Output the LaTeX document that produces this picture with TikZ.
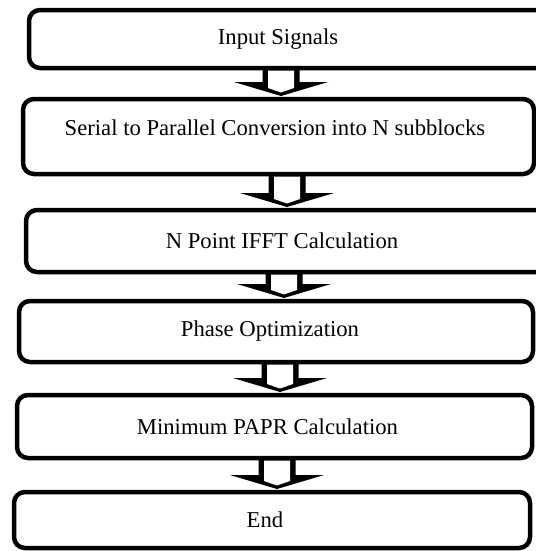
\documentclass[tikz,border=0pt]{standalone}
\usepackage{fontspec}
\setmainfont{Liberation Serif}
\usetikzlibrary{calc}
\newlength\pxu
\setlength\pxu{0.75pt}
% block arrow from node #1 to node #2 along the vertical through coordinate #3
\newcommand\blockarrow[3]{%
  \path let \p1=(#1.south -| #3), \p2=(#2.north -| #3) in
    [fill=black] ($(\p1)+(-18.5,0)$) -- ($(\x1,\y2)+(-18.5,-17)$) -- ($(\x1,\y2)+(-47,-17)$)
    -- ($(\x1,\y2)+(0,-3)$) -- ($(\x1,\y2)+(47,-17)$) -- ($(\x1,\y2)+(18.5,-17)$)
    -- ($(\p1)+(18.5,0)$) -- cycle;
  \path let \p1=(#1.south -| #3), \p2=(#2.north -| #3) in
    [fill=white] ($(\p1)+(-13,2.5)$) -- ($(\x1,\y2)+(-13,-11)$)
    -- ($(\x1,\y2)+(0,-6.5)$) -- ($(\x1,\y2)+(13,-11)$)
    -- ($(\p1)+(13,2.5)$) -- cycle;
}
\begin{document}
\begin{tikzpicture}[x=0.75pt,y=-0.75pt,
  boxline/.style={line width=4.5\pxu, rounded corners=11\pxu},
  box/.style={draw, boxline, inner sep=0pt, outer sep=0pt,
    font=\fontsize{17}{20}\selectfont},
  openbox/.style={box, draw=none},
  tshift/.style={execute at begin node={\hspace*{#1\pxu}}}]
\useasboundingbox (0,0) rectangle (536,551);
\clip (0,0) rectangle (536,551);
\node[openbox, tshift=-33, minimum width=531\pxu, minimum height=58\pxu] (b1) at (294.5,39) {Input Signals};
\draw[boxline] (b1.north east) -- (b1.north west) -- (b1.south west) -- (b1.south east);
\node[box, tshift=-7, minimum width=511\pxu, minimum height=75\pxu, text depth=14pt] (b2) at (278.5,136.5) {Serial to Parallel Conversion into N subblocks};
\node[openbox, tshift=-22, minimum width=534\pxu, minimum height=62\pxu] (b3) at (293,241) {N Point IFFT Calculation};
\draw[boxline] (b3.north east) -- (b3.north west) -- (b3.south west) -- (b3.south east);
\node[box, tshift=-12, minimum width=514\pxu, minimum height=61\pxu] (b4) at (276,331.5) {Phase Optimization};
\node[box, tshift=-14, minimum width=515\pxu, minimum height=63\pxu] (b5) at (274.5,426.5) {Minimum PAPR Calculation};
\node[box, tshift=-14, minimum width=516\pxu, minimum height=56\pxu] (b6) at (272,520) {End};
\coordinate (c1) at (281,0);
\coordinate (c2) at (287,0);
\coordinate (c3) at (284,0);
\coordinate (c4) at (280,0);
\coordinate (c5) at (277,0);
\blockarrow{b1}{b2}{c1}
\blockarrow{b2}{b3}{c2}
\blockarrow{b3}{b4}{c3}
\blockarrow{b4}{b5}{c4}
\blockarrow{b5}{b6}{c5}
\end{tikzpicture}
\end{document}
